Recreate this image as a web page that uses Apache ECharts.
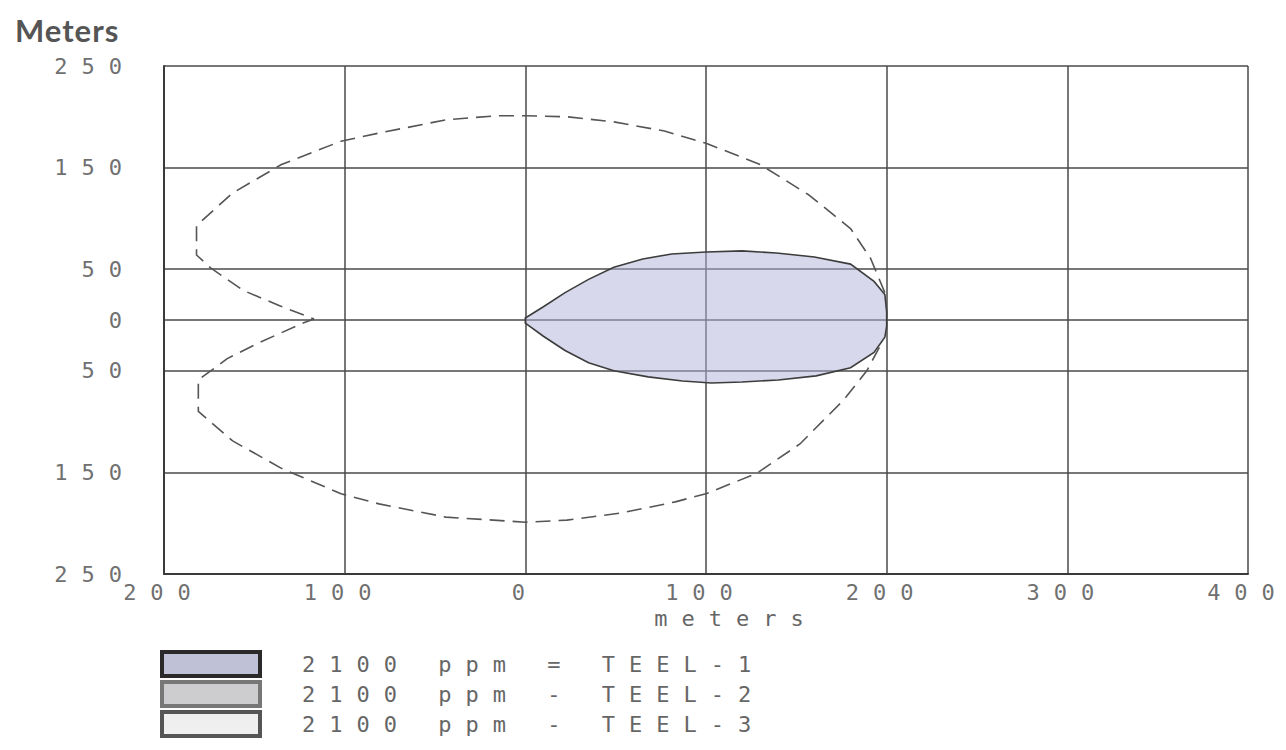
<!DOCTYPE html>
<html>
<head>
<meta charset="utf-8">
<script src="https://cdn.jsdelivr.net/npm/echarts@6/dist/echarts.min.js"></script>
<style>
  html, body { margin: 0; padding: 0; background: #ffffff; }
  #chart { width: 1286px; height: 750px; }
  #chart svg text { letter-spacing: 14px; }
  #chart svg text[style*="bold"] { letter-spacing: 1px; }
</style>
</head>
<body>
<div id="chart"></div>
<script>
// ---- data ----
const xTicks = [-200, -100, 0, 100, 200, 300, 400];
const yTicks = [-250, -150, -50, 0, 50, 150, 250];
const legendNames = ['2100 ppm = TEEL-1', '2100 ppm - TEEL-2', '2100 ppm - TEEL-3'];

// filled threat zone outline (x, y in meters)
const zonePoints = [
  [0, 2], [10, 13], [22, 27], [35, 40], [49, 52], [65, 60], [81, 65], [100, 67],
  [120, 68], [139, 66], [160, 62], [180, 55], [193, 38], [199, 25], [200, 8],
  [200, -6], [199, -17], [193, -32], [180, -47], [161, -55], [140, -59],
  [120, -61], [103, -62], [87, -60], [68, -56], [49, -50], [35, -42],
  [22, -30], [10, -16], [0, -3]
];

// dashed confidence outline (x, y in meters)
const dashedPoints = [
  [199, 27], [191, 61], [180, 90], [157, 123], [130, 153], [100, 174], [77, 186],
  [49, 195], [23, 200], [0, 201], [-16, 201], [-44, 197], [-81, 184], [-102, 176],
  [-135, 153], [-162, 125], [-182, 93], [-182, 64], [-174, 51], [-156, 29],
  [-136, 14], [-117, 1], [-123, -3], [-147, -22], [-165, -38], [-181, -59],
  [-181, -90], [-162, -119], [-135, -146], [-102, -171], [-81, -181], [-44, -194],
  [0, -199], [23, -197], [53, -190], [83, -179], [100, -171], [128, -151],
  [152, -122], [176, -79], [189, -50], [198, -20]
];

const monoFont = '"DejaVu Sans Mono", "Liberation Mono", monospace';
const gridColor = '#4a4a4a';

const chart = echarts.init(document.getElementById('chart'), null, { renderer: 'svg' });

chart.setOption({
  animation: false,
  backgroundColor: '#ffffff',
  title: {
    text: 'Meters',
    left: 10,
    top: 9,
    textStyle: { fontFamily: 'Lato, "Open Sans", sans-serif', fontSize: 31, fontWeight: 'bold', color: '#555555' }
  },
  grid: { left: 164, right: 38, top: 66, bottom: 176 },
  xAxis: {
    type: 'value',
    min: -200, max: 400, interval: 100,
    name: 'meters',
    nameLocation: 'middle',
    nameGap: 33,
    nameTextStyle: { fontFamily: monoFont, fontSize: 22, color: '#666666', padding: [0, 0, 0, 60] },
    axisLine: { show: true, onZero: false, lineStyle: { color: '#3a3a3a', width: 2 } },
    axisTick: { show: false },
    axisLabel: {
      customValues: xTicks,
      margin: 7,
      fontFamily: monoFont, fontSize: 22, color: '#707070',
      formatter: v => String(Math.abs(v))
    },
    splitLine: { show: true, lineStyle: { color: gridColor, width: 1.5 } }
  },
  yAxis: {
    type: 'value',
    min: -250, max: 250,
    axisLine: { show: true, onZero: false, lineStyle: { color: '#3a3a3a', width: 2 } },
    axisTick: { show: false, customValues: yTicks },
    axisLabel: {
      customValues: yTicks,
      margin: 28,
      fontFamily: monoFont, fontSize: 22, color: '#707070',
      formatter: v => String(Math.abs(v))
    },
    splitLine: { show: true, lineStyle: { color: gridColor, width: 1.5 } }
  },
  legend: {
    orient: 'vertical',
    left: 160,
    top: 650,
    padding: 0,
    itemWidth: 98,
    itemHeight: 24,
    itemGap: 2,
    selectedMode: false,
    textStyle: { fontFamily: monoFont, fontSize: 22, lineHeight: 22, color: '#666666', padding: [0, 0, 0, 37] },
    data: [
      { name: legendNames[0], icon: 'rect', itemStyle: { color: '#bfc1d6', borderColor: '#2a2a2a', borderWidth: 4 } },
      { name: legendNames[1], icon: 'rect', itemStyle: { color: '#cdcdcf', borderColor: '#777777', borderWidth: 4 } },
      { name: legendNames[2], icon: 'rect', itemStyle: { color: '#efefef', borderColor: '#555555', borderWidth: 4 } }
    ]
  },
  series: [
    {
      name: legendNames[0],
      type: 'custom',
      data: zonePoints,
      encode: { x: 0, y: 1 },
      z: 3,
      renderItem: function (params, api) {
        if (params.dataIndex !== 0) return null;
        const pts = zonePoints.map(p => api.coord(p));
        return {
          type: 'polygon',
          shape: { points: pts },
          style: { fill: 'rgba(175,178,215,0.5)', stroke: '#3d3d3d', lineWidth: 1.6 }
        };
      }
    },
    { name: legendNames[1], type: 'line', data: [] },
    { name: legendNames[2], type: 'line', data: [] },
    {
      name: 'confidence',
      type: 'line',
      data: dashedPoints,
      showSymbol: false,
      symbol: 'none',
      smooth: false,
      z: 4,
      lineStyle: { color: '#555555', width: 1.6, type: [15, 8] }
    }
  ]
});
</script>
</body>
</html>
